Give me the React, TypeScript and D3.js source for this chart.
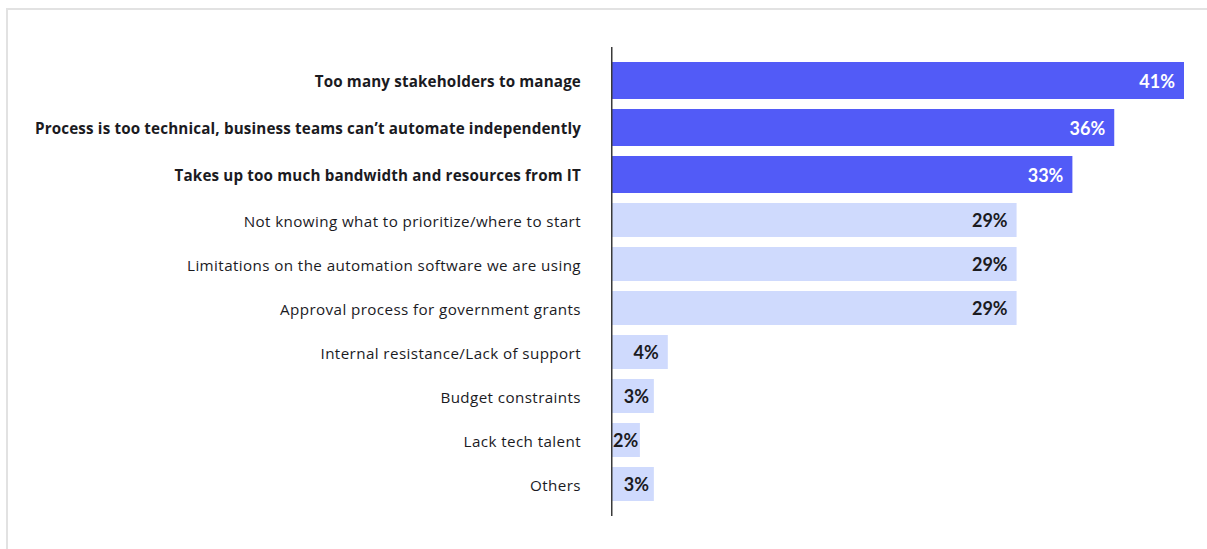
import React from "react";
import * as d3 from "d3";

const categories = [
  "Too many stakeholders to manage",
  "Process is too technical, business teams can’t automate independently",
  "Takes up too much bandwidth and resources from IT",
  "Not knowing what to prioritize/where to start",
  "Limitations on the automation software we are using",
  "Approval process for government grants",
  "Internal resistance/Lack of support",
  "Budget constraints",
  "Lack tech talent",
  "Others",
];
const values = [41, 36, 33, 29, 29, 29, 4, 3, 2, 3];
const highlighted = [true, true, true, false, false, false, false, false, false, false];
const valueLabels = values.map((v) => `${v}%`);

const W = 1207;
const H = 549;
const LABEL_FONT = "'Open Sans', sans-serif";
const VALUE_FONT = "Lato, 'Open Sans', sans-serif";
const DARK = "#525BF7";
const LIGHT = "#CFDAFD";
const TEXT = "#1b1b1f";

export default function App() {
  const x0 = 612;
  const x = d3.scaleLinear().domain([0, 41]).range([x0, 1184]);

  // row units: emphasized rows are slightly taller
  const units = highlighted.map((h) => (h ? 47 : 44));
  const cum = [0, ...d3.cumsum(units)];
  const total = cum[cum.length - 1];
  const y = d3.scaleLinear().domain([0, total]).range([57, 506]);
  const gap = 10;

  return (
    <svg
      width={W}
      height={H}
      style={{ position: "absolute", left: 0, top: 0, background: "#fff" }}
    >
      <rect x={7} y={9} width={W + 10} height={H + 10} fill="#fff" stroke="#e2e2e2" strokeWidth={2} />
      {categories.map((c, i) => {
        const top = y(cum[i]) + gap / 2;
        const bottom = y(cum[i + 1]) - gap / 2;
        const h = bottom - top;
        const cy = top + h / 2;
        const xe = x(values[i]);
        const narrow = xe - x0 < 30;
        const lx = narrow ? x0 + 1 : Math.max(xe - 9, x0 + 37);
        return (
          <g key={c}>
            <rect x={x0} y={top} width={xe - x0} height={h} fill={highlighted[i] ? DARK : LIGHT} />
            <text
              x={581}
              y={cy + 1.5}
              dy="0.35em"
              textAnchor="end"
              fontFamily={LABEL_FONT}
              fontSize={15.2}
              letterSpacing={highlighted[i] ? 0.15 : 0.4}
              fontWeight={highlighted[i] ? 700 : 400}
              fill={TEXT}
            >
              {c}
            </text>
            <text
              x={lx}
              y={cy + 1}
              dy="0.36em"
              textAnchor={narrow ? "start" : "end"}
              fontFamily={VALUE_FONT}
              fontSize={18}
              fontWeight={700}
              fill={highlighted[i] ? "#ffffff" : TEXT}
            >
              {valueLabels[i]}
            </text>
          </g>
        );
      })}
      <line x1={611.75} x2={611.75} y1={47} y2={516} stroke="#3a3a3a" strokeWidth={1.5} />
    </svg>
  );
}
